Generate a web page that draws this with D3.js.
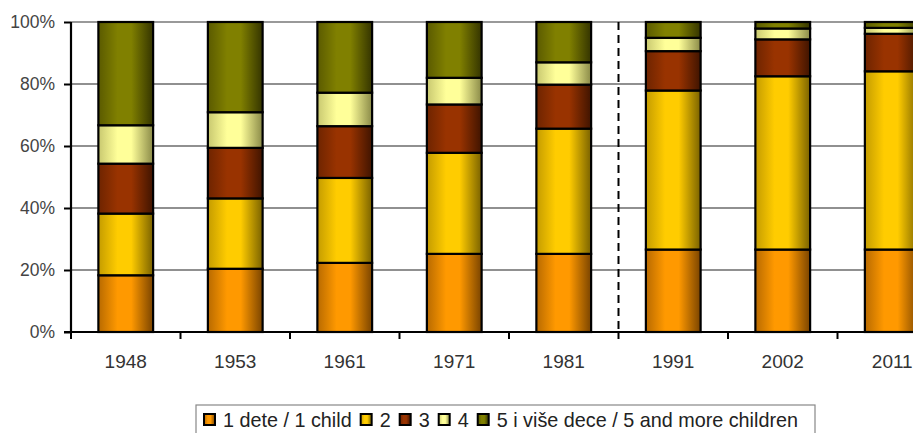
<!DOCTYPE html>
<html>
<head>
<meta charset="utf-8">
<script src="https://cdn.jsdelivr.net/npm/d3@7"></script>
<style>
  body { margin: 0; background: #fff; }
  svg { display: block; font-family: "Liberation Sans", Arial, sans-serif; }
</style>
</head>
<body>
<svg id="chart"></svg>
<script>
// data
const years = ["1948", "1953", "1961", "1971", "1981", "1991", "2002", "2011"];
const seriesKeys = ["c1", "c2", "c3", "c4", "c5"];
const seriesLabels = ["1 dete / 1 child", "2", "3", "4", "5 i više dece / 5 and more children"];
const c1 = [18.3, 20.4, 22.3, 25.2, 25.2, 26.6, 26.6, 26.6];
const c2 = [19.9, 22.7, 27.4, 32.6, 40.4, 51.3, 55.9, 57.5];
const c3 = [16.1, 16.3, 16.7, 15.6, 14.2, 12.7, 11.9, 12.1];
const c4 = [12.4, 11.5, 10.8, 8.6, 7.2, 4.3, 3.5, 1.9];
const c5 = [33.3, 29.1, 22.8, 18.0, 13.0, 5.1, 2.1, 1.9];
const yTicks = [0, 20, 40, 60, 80, 100];

const colors = {
  c1: ["#b86a00", "#ff9900", "#7a4400"],
  c2: ["#c49c00", "#ffcc00", "#7a6200"],
  c3: ["#6e2400", "#993300", "#401400"],
  c4: ["#c8c870", "#ffff99", "#8a8a48"],
  c5: ["#5a5a00", "#808000", "#343400"],
};

const width = 913;
const height = 433;
const margin = { top: 22, left: 71, bottom: 101 };
const step = 109.5;

const table = years.map((y, i) => ({
  year: y, c1: c1[i], c2: c2[i], c3: c3[i], c4: c4[i], c5: c5[i],
}));
const stacked = d3.stack().keys(seriesKeys)(table);

const x = d3.scaleBand()
  .domain(years)
  .range([margin.left, margin.left + step * years.length])
  .paddingInner(0.5)
  .paddingOuter(0.25);

const y = d3.scaleLinear()
  .domain([0, 100])
  .range([height - margin.bottom, margin.top]);

const svg = d3.select("#chart").attr("width", width).attr("height", height);

// gradients
const defs = svg.append("defs");
seriesKeys.forEach((k) => {
  const g = defs.append("linearGradient").attr("id", "g-" + k)
    .attr("x1", "0%").attr("x2", "100%").attr("y1", "0%").attr("y2", "0%");
  g.append("stop").attr("offset", "0%").attr("stop-color", colors[k][0]);
  g.append("stop").attr("offset", "35%").attr("stop-color", colors[k][1]);
  g.append("stop").attr("offset", "60%").attr("stop-color", colors[k][1]);
  g.append("stop").attr("offset", "100%").attr("stop-color", colors[k][2]);
});

// grid
svg.append("g")
  .selectAll("line")
  .data(yTicks.filter((d) => d > 0))
  .join("line")
  .attr("x1", margin.left)
  .attr("x2", width)
  .attr("y1", (d) => y(d))
  .attr("y2", (d) => y(d))
  .attr("stroke", (d) => (d === 100 ? "#999" : "#222"))
  .attr("stroke-width", (d) => (d === 100 ? 2 : 1.2));

// separator between 1981 and 1991
const sepX = x("1991") - (x.step() - x.bandwidth()) / 2;
svg.append("line")
  .attr("x1", sepX).attr("x2", sepX)
  .attr("y1", y(100)).attr("y2", y(0))
  .attr("stroke", "#000")
  .attr("stroke-width", 2)
  .attr("stroke-dasharray", "8,5");

// bars
svg.append("g")
  .selectAll("g")
  .data(stacked)
  .join("g")
  .attr("fill", (d) => `url(#g-${d.key})`)
  .selectAll("rect")
  .data((d) => d)
  .join("rect")
  .attr("x", (d) => x(d.data.year))
  .attr("width", x.bandwidth())
  .attr("y", (d) => y(d[1]))
  .attr("height", (d) => y(d[0]) - y(d[1]))
  .attr("stroke", "#000")
  .attr("stroke-width", 2.2);

// x axis
const xAxis = svg.append("g")
  .attr("transform", `translate(0,${y(0)})`);
xAxis.append("line")
  .attr("x1", margin.left - 7).attr("x2", width)
  .attr("stroke", "#000").attr("stroke-width", 2.2);
xAxis.selectAll("line.tick")
  .data(d3.range(years.length + 1))
  .join("line")
  .attr("class", "tick")
  .attr("x1", (i) => margin.left + i * x.step())
  .attr("x2", (i) => margin.left + i * x.step())
  .attr("y1", 0).attr("y2", 7)
  .attr("stroke", "#000").attr("stroke-width", 2);
xAxis.selectAll("text")
  .data(years)
  .join("text")
  .attr("x", (d) => x(d) + x.bandwidth() / 2)
  .attr("y", 36)
  .attr("text-anchor", "middle")
  .attr("font-size", 19)
  .attr("fill", "#333")
  .text((d) => d);

// y axis
const yAxis = svg.append("g")
  .attr("transform", `translate(${margin.left},0)`)
  .call(d3.axisLeft(y).tickValues(yTicks).tickSize(7).tickFormat((d) => d + "%"));
yAxis.select(".domain").attr("stroke", "#000").attr("stroke-width", 2.2)
  .attr("d", `M0,${y(100)}V${y(0)}`);
yAxis.selectAll(".tick line").attr("stroke", "#000").attr("stroke-width", 2);
yAxis.selectAll(".tick text")
  .attr("font-size", 17.5)
  .attr("font-family", "Liberation Sans, Arial, sans-serif")
  .attr("fill", "#444")
  .attr("x", -16);

// legend
const legend = svg.append("g").attr("transform", "translate(196,405)");
legend.append("rect")
  .attr("width", 619).attr("height", 40)
  .attr("fill", "#fff").attr("stroke", "#888").attr("stroke-width", 1.2);
let lx = 8;
seriesKeys.forEach((k, i) => {
  legend.append("rect")
    .attr("x", lx).attr("y", 9).attr("width", 11).attr("height", 11)
    .attr("fill", `url(#g-${k})`).attr("stroke", "#000").attr("stroke-width", 2);
  const t = legend.append("text")
    .attr("x", lx + 19).attr("y", 22)
    .attr("font-size", 19.8)
    .attr("fill", "#222")
    .text(seriesLabels[i]);
  lx += 19 + t.node().getComputedTextLength() + 9;
});
</script>
</body>
</html>
